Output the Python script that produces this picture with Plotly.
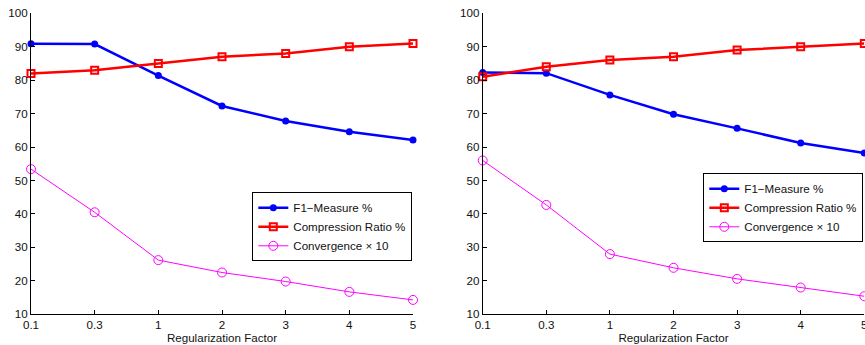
import plotly.graph_objects as go

categories = ["0.1", "0.3", "1", "2", "3", "4", "5"]

left_f1 = [90.9, 90.8, 81.4, 72.3, 67.8, 64.6, 62.1]
left_comp = [82, 83, 85, 87, 88, 90, 91]
left_conv = [53.4, 40.5, 26.2, 22.5, 19.8, 16.7, 14.3]

right_f1 = [82.3, 82.1, 75.6, 69.8, 65.6, 61.2, 58.2]
right_comp = [81, 84, 86, 87, 89, 90, 91]
right_conv = [56.0, 42.7, 28.0, 23.9, 20.6, 18.0, 15.4]

series_names = ["F1\u2212Measure %", "Compression Ratio %", "Convergence \u00d7 10"]
y_ticks = [10, 20, 30, 40, 50, 60, 70, 80, 90, 100]

W, H = 865, 345
FONT = "Liberation Sans, Arial, Helvetica, sans-serif"
FS = 11.6

fig = go.Figure()

def add_panel(f1, comp, conv, xa, ya, legend):
    x = list(range(len(categories)))
    fig.add_trace(go.Scatter(
        x=x, y=f1, name=series_names[0], xaxis=xa, yaxis=ya, legend=legend,
        mode="lines+markers", cliponaxis=False,
        line=dict(color="#0000FF", width=2.5),
        marker=dict(symbol="circle", size=7, color="#0000FF"),
    ))
    fig.add_trace(go.Scatter(
        x=x, y=comp, name=series_names[1], xaxis=xa, yaxis=ya, legend=legend,
        mode="lines+markers", cliponaxis=False,
        line=dict(color="#FF0000", width=2.5),
        marker=dict(symbol="square-open", size=7, color="#FF0000",
                    line=dict(width=2, color="#FF0000")),
    ))
    fig.add_trace(go.Scatter(
        x=x, y=conv, name=series_names[2], xaxis=xa, yaxis=ya, legend=legend,
        mode="lines+markers", cliponaxis=False,
        line=dict(color="#FF00FF", width=1),
        marker=dict(symbol="circle-open", size=9, color="#FF00FF",
                    line=dict(width=1, color="#FF00FF")),
    ))

add_panel(left_f1, left_comp, left_conv, "x", "y", "legend")
add_panel(right_f1, right_comp, right_conv, "x2", "y2", "legend2")

y0 = (H - 314.3) / H
y1 = (H - 13.3) / H

xcommon = dict(
    range=[0, len(categories) - 1],
    tickvals=list(range(len(categories))), ticktext=categories,
    showline=True, linecolor="black", linewidth=1, mirror=False,
    ticks="inside", ticklen=4, tickcolor="black",
    showgrid=False, zeroline=False,
    tickfont=dict(family=FONT, size=FS, color="#111"),
    ticklabeloverflow="allow",
    title=dict(text="Regularization Factor", font=dict(family=FONT, size=FS, color="#111"), standoff=2),
    automargin=False,
)
ycommon = dict(
    range=[10, 100], tickvals=y_ticks,
    showline=True, linecolor="black", linewidth=1, mirror=False,
    ticks="inside", ticklen=4, tickcolor="black",
    showgrid=False, zeroline=False,
    tickfont=dict(family=FONT, size=FS, color="#111"),
    ticklabeloverflow="allow",
    automargin=False,
)

legcommon = dict(
    bordercolor="black", borderwidth=1, bgcolor="white",
    font=dict(family=FONT, size=FS, color="#111"),
    xanchor="left", yanchor="top", tracegroupgap=0,
    itemwidth=30,
)

fig.update_layout(
    width=W, height=H,
    margin=dict(l=0, r=0, t=0, b=0),
    paper_bgcolor="white", plot_bgcolor="white",
    xaxis=dict(domain=[31 / W, 413 / W], anchor="y", **xcommon),
    yaxis=dict(domain=[y0, y1], anchor="x", **ycommon),
    xaxis2=dict(domain=[482.7 / W, 864.3 / W], anchor="y2", **xcommon),
    yaxis2=dict(domain=[y0, y1], anchor="x2", **ycommon),
    legend=dict(x=252.3 / W, y=1 - 192.3 / H, **legcommon),
    legend2=dict(x=703.3 / W, y=1 - 173.3 / H, **legcommon),
    showlegend=True,
)

fig.write_html("out.html", config={"displayModeBar": False},
               post_script="document.body.style.margin='0';document.body.style.overflow='hidden';")
